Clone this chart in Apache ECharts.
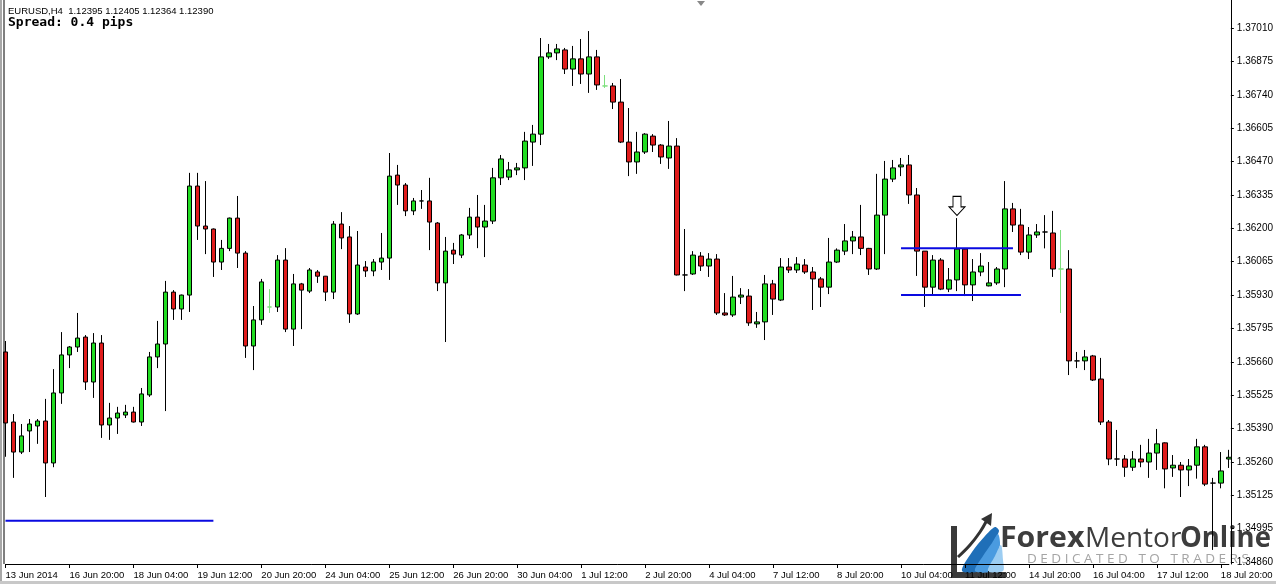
<!DOCTYPE html>
<html><head><meta charset="utf-8">
<script src="https://cdn.jsdelivr.net/npm/echarts@6/dist/echarts.min.js"></script>
<style>html,body{margin:0;padding:0;background:#fff;overflow:hidden}#c{width:1276px;height:584px;}</style>
</head><body><div id="c"></div>
<script>
// ---- tick labels ----
const xTickLabels = ['13 Jun 2014','16 Jun 20:00','18 Jun 04:00','19 Jun 12:00','20 Jun 20:00','24 Jun 04:00','25 Jun 12:00','26 Jun 20:00','30 Jun 04:00','1 Jul 12:00','2 Jul 20:00','4 Jul 04:00','7 Jul 12:00','8 Jul 20:00','10 Jul 04:00','11 Jul 12:00','14 Jul 20:00','16 Jul 04:00','17 Jul 12:00','18 Jul 20:00'];
const yTickLabels = ['1.34860','1.34995','1.35125','1.35260','1.35390','1.35525','1.35660','1.35795','1.35930','1.36065','1.36200','1.36335','1.36470','1.36605','1.36740','1.36875','1.37010'];
const barsPerLabel = 8;
// ---- EURUSD H4 candles: [open, close, low, high] ----
const ohlc = [
[1.35706,1.35420,1.35284,1.35750],[1.35424,1.35303,1.35199,1.35456],[1.35303,1.35368,1.35295,1.35416],[1.35388,1.35416,1.35303,1.35436],
[1.35408,1.35428,1.35336,1.35436],[1.35428,1.35259,1.35122,1.35517],[1.35259,1.35541,1.35242,1.35637],[1.35541,1.35694,1.35497,1.35786],
[1.35694,1.35726,1.35641,1.35730],[1.35726,1.35762,1.35706,1.35863],[1.35766,1.35585,1.35553,1.35774],[1.35585,1.35742,1.35521,1.35782],
[1.35742,1.35412,1.35360,1.35774],[1.35412,1.35440,1.35352,1.35501],[1.35440,1.35460,1.35376,1.35485],[1.35452,1.35464,1.35440,1.35493],
[1.35464,1.35424,1.35422,1.35485],[1.35424,1.35537,1.35408,1.35561],[1.35533,1.35686,1.35525,1.35706],[1.35686,1.35738,1.35641,1.35831],
[1.35738,1.35947,1.35468,1.35992],[1.35947,1.35879,1.35835,1.35955],[1.35879,1.35935,1.35835,1.35937],[1.35935,1.36374,1.35867,1.36427],
[1.36374,1.36213,1.36157,1.36427],[1.36213,1.36201,1.36100,1.36394],[1.36201,1.36068,1.36008,1.36203],[1.36068,1.36123,1.36036,1.36157],
[1.36123,1.36245,1.36112,1.36247],[1.36245,1.36104,1.36044,1.36334],[1.36104,1.35730,1.35682,1.36112],[1.35730,1.35835,1.35633,1.35891],
[1.35835,1.35988,1.35815,1.36000],[1.35887,1.35887,1.35863,1.35959],[1.35887,1.36076,1.35867,1.36096],[1.36076,1.35798,1.35786,1.36124],
[1.35798,1.35980,1.35730,1.36020],[1.35980,1.35955,1.35798,1.35984],[1.35951,1.36036,1.35943,1.36044],[1.36028,1.36011,1.35984,1.36036],
[1.36011,1.35947,1.35911,1.36012],[1.35947,1.36221,1.35919,1.36233],[1.36221,1.36165,1.36120,1.36269],[1.36169,1.35859,1.35823,1.36213],
[1.35859,1.36056,1.35855,1.36193],[1.36048,1.36032,1.36008,1.36072],[1.36032,1.36068,1.36011,1.36080],[1.36068,1.36084,1.36036,1.36185],
[1.36084,1.36414,1.35996,1.36507],[1.36418,1.36378,1.36298,1.36459],[1.36378,1.36274,1.36253,1.36386],[1.36274,1.36314,1.36257,1.36326],
[1.36314,1.36314,1.36282,1.36358],[1.36314,1.36229,1.36116,1.36407],[1.36225,1.35984,1.35951,1.36229],[1.35984,1.36112,1.35746,1.36169],
[1.36116,1.36100,1.36060,1.36145],[1.36096,1.36177,1.36084,1.36181],[1.36177,1.36249,1.36161,1.36286],[1.36249,1.36209,1.36124,1.36338],
[1.36209,1.36233,1.36088,1.36298],[1.36233,1.36407,1.36221,1.36447],[1.36407,1.36483,1.36378,1.36499],[1.36410,1.36439,1.36398,1.36471],
[1.36439,1.36447,1.36418,1.36467],[1.36447,1.36555,1.36398,1.36592],[1.36551,1.36583,1.36455,1.36620],[1.36583,1.36894,1.36539,1.36970],
[1.36894,1.36910,1.36886,1.36946],[1.36910,1.36926,1.36881,1.36946],[1.36922,1.36845,1.36825,1.36930],[1.36845,1.36886,1.36777,1.36938],
[1.36886,1.36825,1.36785,1.36966],[1.36825,1.36894,1.36749,1.36998],[1.36894,1.36781,1.36761,1.36922],[1.36777,1.36777,1.36769,1.36821],
[1.36777,1.36712,1.36684,1.36789],[1.36712,1.36551,1.36547,1.36805],[1.36551,1.36471,1.36414,1.36688],[1.36471,1.36511,1.36423,1.36592],
[1.36511,1.36583,1.36503,1.36587],[1.36575,1.36539,1.36511,1.36583],[1.36539,1.36491,1.36463,1.36543],[1.36487,1.36535,1.36443,1.36636],
[1.36535,1.36016,1.36014,1.36567],[1.36016,1.36016,1.35951,1.36201],[1.36020,1.36096,1.36016,1.36112],[1.36092,1.36052,1.36032,1.36108],
[1.36052,1.36080,1.36008,1.36104],[1.36080,1.35863,1.35855,1.36100],[1.35863,1.35855,1.35851,1.35943],[1.35855,1.35927,1.35847,1.36012],
[1.35927,1.35935,1.35899,1.35963],[1.35931,1.35823,1.35811,1.35959],[1.35819,1.35827,1.35803,1.35867],[1.35827,1.35980,1.35754,1.36016],
[1.35980,1.35919,1.35855,1.35996],[1.35915,1.36048,1.35911,1.36084],[1.36048,1.36036,1.36024,1.36084],[1.36036,1.36060,1.36024,1.36088],
[1.36056,1.36028,1.36020,1.36080],[1.36028,1.36000,1.35875,1.36048],[1.36000,1.35967,1.35887,1.36008],[1.35967,1.36068,1.35939,1.36165],
[1.36068,1.36116,1.36064,1.36123],[1.36112,1.36153,1.36096,1.36221],[1.36153,1.36169,1.36100,1.36193],[1.36169,1.36123,1.36096,1.36298],
[1.36123,1.36040,1.36016,1.36125],[1.36040,1.36257,1.36036,1.36423],[1.36257,1.36402,1.36100,1.36475],[1.36402,1.36447,1.36390,1.36479],
[1.36451,1.36459,1.36414,1.36487],[1.36459,1.36338,1.36302,1.36499],[1.36338,1.36112,1.36012,1.36366],[1.36112,1.35967,1.35887,1.36112],
[1.35967,1.36076,1.35935,1.36096],[1.36076,1.35959,1.35955,1.36084],[1.35959,1.35996,1.35947,1.36044],[1.35996,1.36120,1.35951,1.36245],
[1.36120,1.35976,1.35931,1.36123],[1.35976,1.36028,1.35911,1.36080],[1.36028,1.36052,1.36011,1.36104],[1.35972,1.35984,1.35970,1.36068],
[1.35984,1.36040,1.35976,1.36048],[1.36040,1.36282,1.35967,1.36394],[1.36282,1.36217,1.36189,1.36306],[1.36217,1.36108,1.36096,1.36282],
[1.36108,1.36177,1.36080,1.36209],[1.36177,1.36189,1.36165,1.36221],[1.36189,1.36189,1.36123,1.36257],[1.36185,1.36040,1.36008,1.36274],
[1.36040,1.36040,1.35863,1.36197],[1.36040,1.35670,1.35613,1.36116],[1.35670,1.35670,1.35641,1.35706],[1.35670,1.35686,1.35633,1.35714],
[1.35690,1.35593,1.35589,1.35694],[1.35597,1.35424,1.35412,1.35682],[1.35424,1.35275,1.35250,1.35432],[1.35275,1.35275,1.35247,1.35392],
[1.35275,1.35242,1.35203,1.35291],[1.35242,1.35275,1.35227,1.35307],[1.35275,1.35263,1.35242,1.35332],[1.35263,1.35299,1.35199,1.35356],
[1.35299,1.35336,1.35231,1.35396],[1.35340,1.35235,1.35157,1.35342],[1.35239,1.35250,1.35203,1.35291],[1.35250,1.35231,1.35122,1.35263],
[1.35231,1.35247,1.35166,1.35275],[1.35250,1.35324,1.35196,1.35356],[1.35324,1.35174,1.35166,1.35332],[1.35178,1.35178,1.34909,1.35199],
[1.35178,1.35227,1.35157,1.35303],[1.35275,1.35282,1.35239,1.35312]
];
const lightDojiBars = [33, 75, 132];
// ---- drawn objects: horizontal lines [startBar, endBar, price] ----
const hLines = [[0, 26, 1.35026], [112, 126, 1.36124], [112, 127, 1.35935]];
const arrowMark = [119, 1.36294];
const header = 'EURUSD,H4  1.12395 1.12405 1.12364 1.12390';
const spreadText = 'Spread: 0.4 pips';

const yLo = parseFloat(yTickLabels[0]), yHi = parseFloat(yTickLabels[yTickLabels.length-1]);
const yStep = (yHi - yLo) / (yTickLabels.length - 1);
const yTickValues = yTickLabels.map((_, i) => yLo + i * yStep);
const yMin = 1.348523, yMax = 1.37123;

const categories = ohlc.map((_, i) => 'b' + i);
const candleData = ohlc.map((v, i) => lightDojiBars.includes(i)
  ? {value: v, itemStyle: {color: '#7de07d', color0: '#7de07d', borderColor: '#7de07d', borderColor0: '#7de07d', borderColorDoji: '#7de07d'}}
  : v);

const lineSeries = hLines.map((h, i) => ({
  type: 'line', name: 'hline' + i, data: [[h[0], h[2]], [h[1], h[2]]],
  symbol: 'none', lineStyle: {color: '#0a0ae0', width: 2}, z: 5, animation: false, silent: true
}));

const chart = echarts.init(document.getElementById('c'), null, {renderer: 'canvas'});
const font = 'Liberation Sans';
chart.setOption({
  animation: false,
  backgroundColor: '#ffffff',
  grid: {left: 5.5, right: 46.5, top: 0, bottom: 20, containLabel: false},
  xAxis: {
    type: 'category', data: categories, boundaryGap: false,
    axisLine: {lineStyle: {color: '#000', width: 1}},
    axisTick: {interval: barsPerLabel - 1, length: 4, lineStyle: {color: '#000'}},
    axisLabel: {interval: barsPerLabel - 1, align: 'left', margin: 6, fontSize: 9.5, fontFamily: font, color: '#000',
      formatter: (v, i) => (i % barsPerLabel === 0 ? xTickLabels[i / barsPerLabel] : '')},
    splitLine: {show: false}
  },
  yAxis: {
    type: 'value', position: 'right', min: yMin, max: yMax, offset: 2, scale: true,
    axisLine: {show: true, lineStyle: {color: '#000', width: 1}},
    axisTick: {show: true, length: 3, customValues: yTickValues, lineStyle: {color: '#000'}},
    axisLabel: {margin: 6, fontSize: 10, fontFamily: font, color: '#000', customValues: yTickValues,
      formatter: v => yTickLabels[Math.round((v - yLo) / yStep)]},
    splitLine: {show: false}
  },
  series: [
    {
      type: 'candlestick', name: 'EURUSD', data: candleData, barWidth: 5, clip: false,
      itemStyle: {color: '#22dd22', color0: '#e01c1c', borderColor: '#000', borderColor0: '#000', borderColorDoji: '#000', borderWidth: 1}
    },
    ...lineSeries,
    {
      type: 'scatter', name: 'arrow', data: [arrowMark], z: 6, silent: true,
      symbol: 'path://M4,0 L12,0 L12,11 L16,11 L8,20 L0,11 L4,11 Z', symbolSize: [16, 19],
      itemStyle: {color: '#ffffff', borderColor: '#000', borderWidth: 1, opacity: 1}
    }
  ],
  graphic: [
    {type: 'rect', shape: {x: 0, y: 0, width: 2, height: 584}, style: {fill: '#a8a8a8'}, z: 100},
    {type: 'line', shape: {x1: 4, y1: 0, x2: 4, y2: 564}, style: {stroke: '#000', lineWidth: 1}, z: 100},
    {type: 'rect', shape: {x: 0, y: 581, width: 1276, height: 3}, style: {fill: '#c8c8c8'}, z: 100},
    {type: 'polygon', shape: {points: [[697, 1], [705, 1], [701, 6]]}, style: {fill: '#888'}, z: 100},
    {type: 'text', left: 8, top: 6, style: {text: header, fontSize: 9.5, fontFamily: font, fill: '#000'}, z: 100},
    {type: 'text', left: 8, top: 16, style: {text: spreadText, fontSize: 13, fontWeight: 'bold', fontFamily: 'DejaVu Sans Mono', fill: '#000'}, z: 100},
    // logo
    {type: 'group', z: 100, children: [
      {type: 'rect', shape: {x: 951, y: 526, width: 6, height: 52}, style: {fill: '#3a3a3a'}},
      {type: 'rect', shape: {x: 951, y: 572, width: 55, height: 6}, style: {fill: '#3a3a3a'}},
      {type: 'polygon', shape: {points: [[962, 571], [972, 552], [985, 536], [995, 527], [999, 531], [992, 545], [985, 560], [980, 571]], smooth: 0.3}, style: {fill: '#1f6fb8'}},
      {type: 'polygon', shape: {points: [[975, 571], [983, 556], [992, 543], [998, 534], [1000, 545], [995, 560], [993, 571]], smooth: 0.3}, style: {fill: '#4a9be0'}},
      {type: 'polygon', shape: {points: [[988, 571], [995, 556], [1001, 545], [1003, 560], [1003, 571]], smooth: 0.3}, style: {fill: '#9ccdf2'}},
      {type: 'polyline', shape: {points: [[958, 557], [970, 545], [980, 532], [987, 520]], smooth: 0.4}, style: {stroke: '#333', lineWidth: 3, fill: null}},
      {type: 'polygon', shape: {points: [[981, 519], [992, 513], [991, 526]]}, style: {fill: '#333'}},
      {type: 'text', x: 1000, y: 525, scaleX: 1.08, style: {text: 'Forex', fontSize: 28, fontWeight: 'bold', fontFamily: 'Open Sans', fill: '#3d3d3d'}},
      {type: 'text', x: 1085, y: 525, scaleX: 1.0, style: {text: 'Mentor', fontSize: 28, fontWeight: 'normal', fontFamily: 'Open Sans', fill: '#3d3d3d'}},
      {type: 'text', x: 1180, y: 525, scaleX: 0.98, style: {text: 'Online', fontSize: 28, fontWeight: 'bold', fontFamily: 'Open Sans', fill: '#3d3d3d'}},
      {type: 'text', x: 1027, y: 553, scaleX: 1.04, style: {text: 'D E D I C A T E D   T O   T R A D E R S', fontSize: 13, fontFamily: 'Open Sans', fill: '#a5a5a5'}}
    ]}
  ]
});
</script></body></html>
